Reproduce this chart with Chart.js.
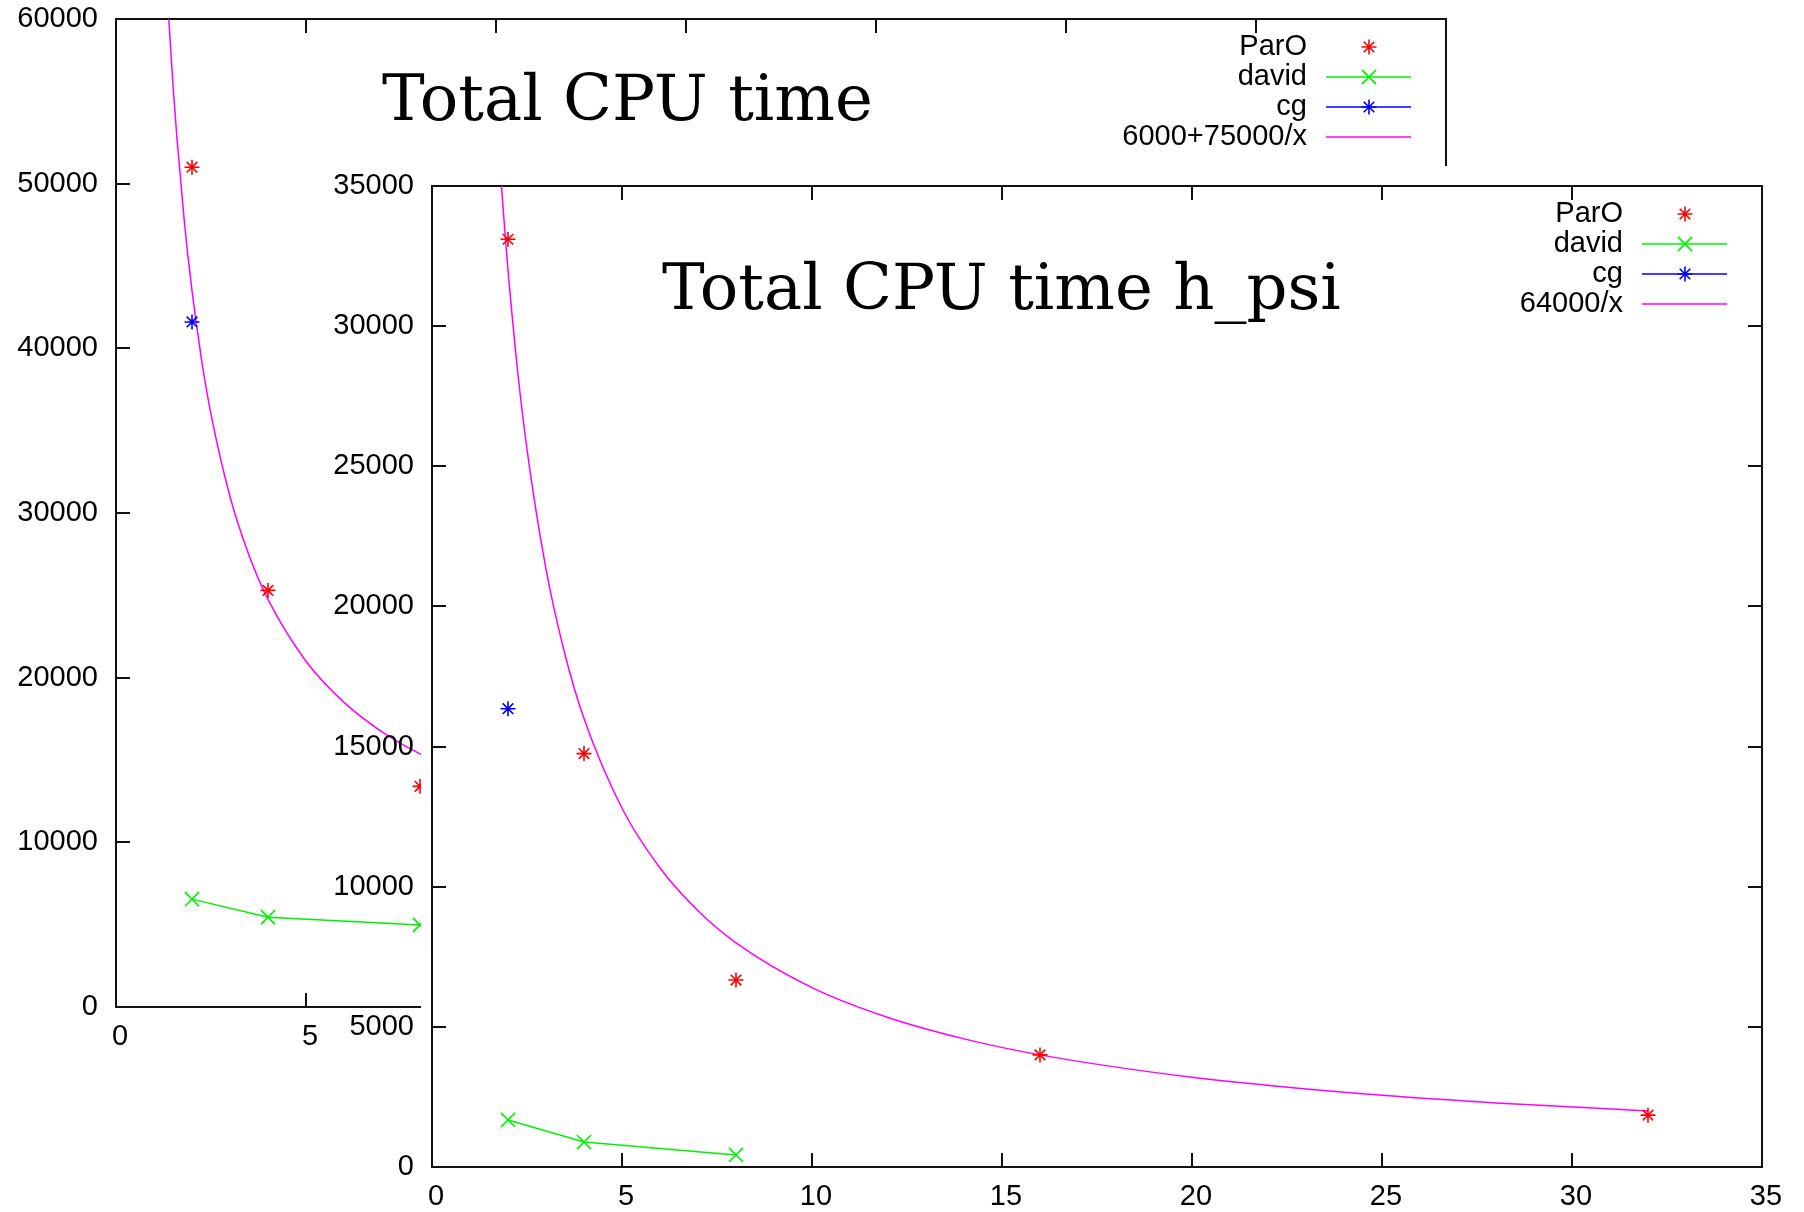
<!DOCTYPE html>
<html>
<head>
<meta charset="utf-8">
<script src="https://cdn.jsdelivr.net/npm/chart.js@4.4.1/dist/chart.umd.min.js"></script>
<style>
  html, body { margin:0; padding:0; background:#fff; }
  #wrap { position:relative; width:1804px; height:1212px; overflow:hidden; }
  #wrap canvas { position:absolute; left:0; top:0; }
</style>
</head>
<body>
<div id="wrap">
  <canvas id="cpuTotal" width="1804" height="1212"></canvas>
  <canvas id="cpuHpsi" width="1804" height="1212"></canvas>
</div>
<script>
// two gnuplot panels, the h_psi one pasted on top of the other

const TITLE_TOTAL = 'Total CPU time';
const TITLE_HPSI  = 'Total CPU time h_psi';

const X_TICKS       = [0, 5, 10, 15, 20, 25, 30, 35];
const Y_TICKS_TOTAL = [0, 10000, 20000, 30000, 40000, 50000, 60000];
const Y_TICKS_HPSI  = [0, 5000, 10000, 15000, 20000, 25000, 30000, 35000];

// back panel: Total CPU time
const TOTAL_PARO_X  = [2, 4, 8];
const TOTAL_PARO_Y  = [51000, 25300, 13400];
const TOTAL_DAVID_X = [2, 4, 8];
const TOTAL_DAVID_Y = [6550, 5450, 4980];
const TOTAL_CG_X    = [2];
const TOTAL_CG_Y    = [41600];
const TOTAL_FIT_LABEL = '6000+75000/x';
const TOTAL_FIT_X = [1.3, 1.4, 1.5, 1.6, 1.8, 2, 2.25, 2.5, 3, 3.5, 4, 5, 6, 7, 8, 10, 12, 14, 16, 20, 24, 28, 32];
const TOTAL_FIT_Y = [63692, 59571, 56000, 52875, 47667, 43500, 39333, 36000, 31000, 27429, 24750, 21000, 18500, 16714, 15375, 13500, 12250, 11357, 10688, 9750, 9125, 8679, 8344];

// front panel: Total CPU time h_psi
const HPSI_PARO_X  = [2, 4, 8, 16, 32];
const HPSI_PARO_Y  = [33100, 14750, 6670, 4000, 1850];
const HPSI_DAVID_X = [2, 4, 8];
const HPSI_DAVID_Y = [1680, 890, 430];
const HPSI_CG_X    = [2];
const HPSI_CG_Y    = [16350];
const HPSI_FIT_LABEL = '64000/x';
const HPSI_FIT_X = [1.8, 1.9, 2, 2.25, 2.5, 3, 3.5, 4, 5, 6, 7, 8, 10, 12, 14, 16, 20, 24, 28, 32];
const HPSI_FIT_Y = [35556, 33684, 32000, 28444, 25600, 21333, 18286, 16000, 12800, 10667, 9143, 8000, 6400, 5333, 4571, 4000, 3200, 2667, 2286, 2000];

const INK     = '#111';
const RED     = '#ff0000';
const GREEN   = '#00f000';
const BLUE    = '#0000ff';
const MAGENTA = '#ff00ff';
const SANS    = "'Liberation Sans', Arial, sans-serif";
const SERIF   = "'DejaVu Serif', serif";

const pts = (xs, ys) => xs.map((x, i) => ({ x, y: ys[i] }));

function marks(label, xs, ys, color, style, line) {
  const r = style === 'crossRot' ? 10 : 7.5;
  return {
    label, data: pts(xs, ys), showLine: line,
    borderColor: color, backgroundColor: color, borderWidth: 1.5,
    pointStyle: style, pointRadius: r, pointHoverRadius: r,
    pointBorderColor: color, pointBorderWidth: 1.6,
  };
}

function fit(label, xs, ys) {
  return {
    label, data: pts(xs, ys), showLine: true,
    borderColor: MAGENTA, backgroundColor: MAGENTA, borderWidth: 1.5,
    pointRadius: 0, pointHoverRadius: 0, cubicInterpolationMode: 'monotone',
  };
}

// white sheet under the front panel, so it hides what is behind
const paperPlugin = {
  id: 'paper',
  beforeDraw(chart, args, o) {
    if (!o.sheet) return;
    const { ctx, chartArea: a } = chart;
    ctx.save();
    ctx.fillStyle = '#fff';
    ctx.fillRect(a.left - 11, a.top - 20, chart.width, chart.height);
    ctx.restore();
  },
};

// gnuplot "set label" title inside the frame
const labelPlugin = {
  id: 'gpLabel',
  afterDraw(chart, args, o) {
    const { ctx, chartArea: a } = chart;
    ctx.save();
    ctx.font = `64px ${SERIF}`;
    ctx.fillStyle = '#000';
    ctx.textBaseline = 'alphabetic';
    ctx.fillText(o.text, a.left + o.dx, a.top + o.dy);
    ctx.restore();
  },
};

// gnuplot key: text right-aligned, then the sample
const keyPlugin = {
  id: 'gpKey',
  afterDraw(chart, args, o) {
    const { ctx, chartArea: a } = chart;
    ctx.save();
    ctx.font = `29px ${SANS}`;
    ctx.textAlign = 'right';
    ctx.textBaseline = 'middle';
    chart.data.datasets.forEach((ds, i) => {
      const y = a.top + o.top + i * 30;
      ctx.fillStyle = '#000';
      ctx.fillText(ds.label, a.right - 139, y);
      if (ds.showLine) {
        ctx.strokeStyle = ds.borderColor;
        ctx.lineWidth = ds.borderWidth;
        ctx.beginPath(); ctx.moveTo(a.right - 120, y); ctx.lineTo(a.right - 35, y); ctx.stroke();
      }
      if (ds.pointRadius > 0) {
        ctx.strokeStyle = ds.pointBorderColor;
        ctx.fillStyle = ds.pointBorderColor;
        ctx.lineWidth = ds.pointBorderWidth;
        Chart.helpers.drawPoint(ctx, { pointStyle: ds.pointStyle, radius: ds.pointRadius, rotation: 0, borderWidth: ds.pointBorderWidth }, a.right - 77, y);
      }
    });
    ctx.restore();
  },
};

function axes(yTicks, yMax, yWidth, xHeight) {
  const fix = arr => s => { s.ticks = arr.map(v => ({ value: v })); };
  // fixed box sizes; drop the label padding Chart.js would add round the area
  const size = (w, h) => s => {
    if (w !== null) s.width = w;
    if (h !== null) s.height = h;
    s.paddingTop = 0; s.paddingBottom = 0; s.paddingLeft = 0; s.paddingRight = 0;
  };
  const grid   = { drawOnChartArea:false, drawTicks:true, tickLength:-14, color:INK, lineWidth:2 };
  const border = { display:true, color:INK, width:2 };
  const font   = { family:SANS, size:29 };
  return {
    x:  { type:'linear', position:'bottom', min:0, max:35, afterBuildTicks:fix(X_TICKS), afterFit:size(null, xHeight),
          grid, border, ticks:{ font, color:'#000', padding:27, labelOffset:4, maxRotation:0, minRotation:0, autoSkip:false, callback:v => String(v) } },
    x2: { type:'linear', position:'top', min:0, max:35, afterBuildTicks:fix(X_TICKS), afterFit:size(null, 0),
          grid, border, ticks:{ display:false } },
    y:  { type:'linear', position:'left', min:0, max:yMax, afterBuildTicks:fix(yTicks), afterFit:size(yWidth, null),
          grid, border, ticks:{ font, color:'#000', padding:32, autoSkip:false, callback:v => String(v) } },
    y2: { type:'linear', position:'right', min:0, max:yMax, afterBuildTicks:fix(yTicks), afterFit:size(0, null),
          grid, border, ticks:{ display:false } },
  };
}

function panel(id, datasets, o) {
  return new Chart(document.getElementById(id), {
    type: 'line',
    data: { datasets },
    options: {
      responsive:false, devicePixelRatio:1, animation:false, events:[],
      layout:{ padding:o.padding },
      scales: axes(o.yTicks, o.yMax, o.yWidth, o.xHeight),
      plugins: {
        legend:{ display:false }, tooltip:{ enabled:false },
        paper:{ sheet:o.sheet },
        gpLabel:{ text:o.title, dx:o.titleDx, dy:o.titleDy },
        gpKey:{ top:28 },
      },
    },
    plugins: [paperPlugin, labelPlugin, keyPlugin],
  });
}

panel('cpuTotal', [
  marks('ParO',  TOTAL_PARO_X,  TOTAL_PARO_Y,  RED,   'star',     false),
  marks('david', TOTAL_DAVID_X, TOTAL_DAVID_Y, GREEN, 'crossRot', true),
  marks('cg',    TOTAL_CG_X,    TOTAL_CG_Y,    BLUE,  'star',     true),
  fit(TOTAL_FIT_LABEL, TOTAL_FIT_X, TOTAL_FIT_Y),
], { padding:{ left:0, top:19, right:358, bottom:145 }, yTicks:Y_TICKS_TOTAL, yMax:60000, yWidth:116, xHeight:60,
     sheet:false, title:TITLE_TOTAL, titleDx:266, titleDy:101 });

panel('cpuHpsi', [
  marks('ParO',  HPSI_PARO_X,  HPSI_PARO_Y,  RED,   'star',     false),
  marks('david', HPSI_DAVID_X, HPSI_DAVID_Y, GREEN, 'crossRot', true),
  marks('cg',    HPSI_CG_X,    HPSI_CG_Y,    BLUE,  'star',     true),
  fit(HPSI_FIT_LABEL, HPSI_FIT_X, HPSI_FIT_Y),
], { padding:{ left:0, top:186, right:42, bottom:0 }, yTicks:Y_TICKS_HPSI, yMax:35000, yWidth:432, xHeight:45,
     sheet:true, title:TITLE_HPSI, titleDx:230, titleDy:123 });
</script>
</body>
</html>
